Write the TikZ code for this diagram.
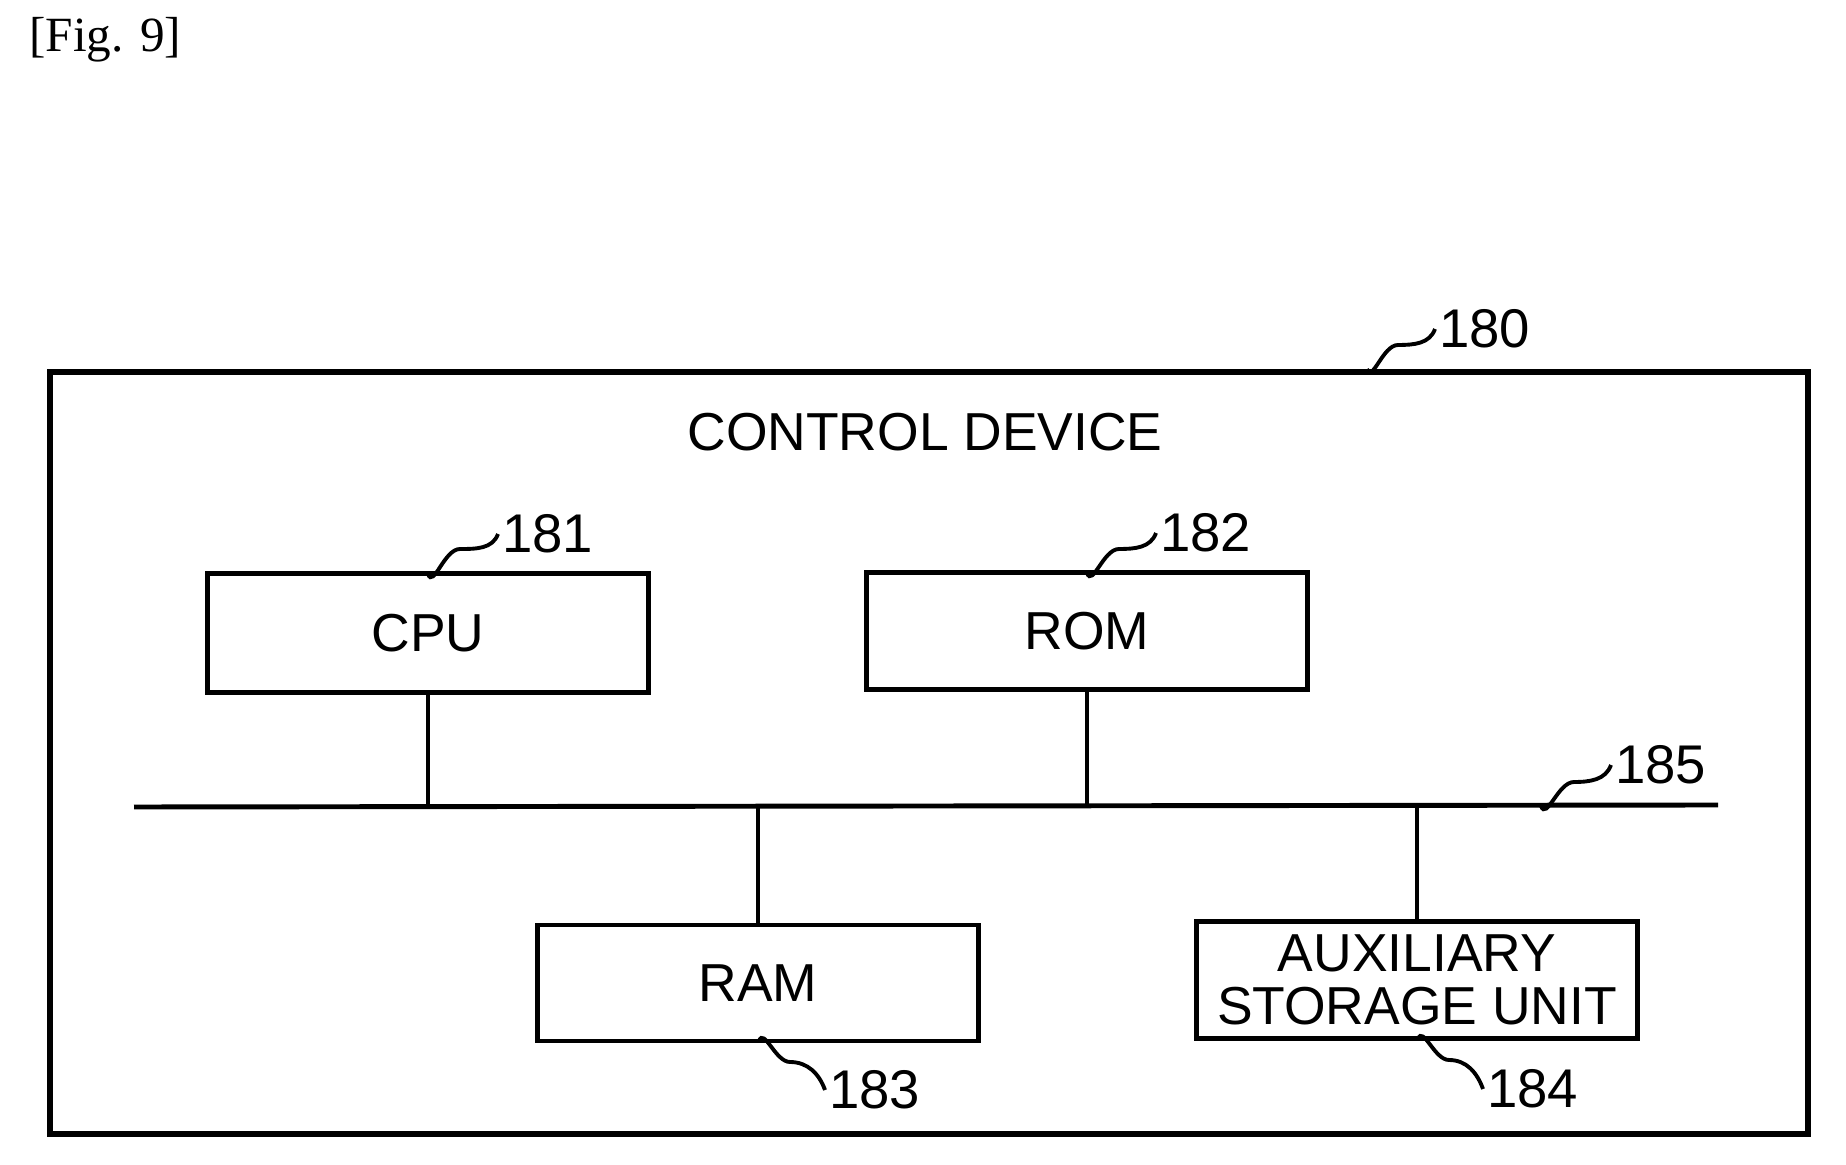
\documentclass[tikz,border=0pt]{standalone}
\usepackage{fontspec}
\setmainfont{Liberation Sans}
\newfontfamily\figfont{Liberation Serif}
\begin{document}
\begin{tikzpicture}[x=0.01cm,y=-0.01cm,
  box/.style={draw,line width=1.4pt,align=center,font=\fontsize{15.2}{16}\selectfont,inner sep=0pt},
  num/.style={font=\fontsize{15.5}{16}\selectfont,inner sep=1pt},
  lead/.style={line width=1.1pt},
  ln/.style={line width=1.4pt}]
\useasboundingbox (0,0) rectangle (1846,1165);
\node[anchor=west,font=\figfont\fontsize{14}{16}\selectfont] (fig) at (17,40) {[Fig. 9]};
\node[draw,line width=1.6pt,minimum width=17.57cm,minimum height=7.62cm,anchor=north west] (outer) at (47,369) {};
\node[font=\fontsize{15.2}{16}\selectfont] (title) at (925,432) {CONTROL DEVICE};
\node[box,minimum width=4.4cm,minimum height=1.19cm] (cpu) at (428,633) {CPU};
\node[box,minimum width=4.41cm,minimum height=1.17cm] (rom) at (1087,631) {ROM};
\node[box,minimum width=4.4cm,minimum height=1.16cm] (ram) at (758,983) {RAM};
\node[box,minimum width=4.4cm,minimum height=1.17cm] (aux) at (1417,980) {AUXILIARY\\[-1pt]STORAGE UNIT};
\coordinate (busL) at (134,807);
\coordinate (busR) at (1718,805);
\draw[ln] (busL) -- (busR);
\draw[ln] (cpu.south) -- (cpu.south |- busL);
\draw[ln] (rom.south) -- (rom.south |- busL);
\draw[ln] (ram.north) -- (ram.north |- busL);
\draw[ln] (aux.north) -- (aux.north |- busL);
% labels
\node[num,anchor=west] (n180) at (1435,329) {180};
\node[num,anchor=west] (n181) at (498,534) {181};
\node[num,anchor=west] (n182) at (1156,533) {182};
\node[num,anchor=west] (n185) at (1611,765) {185};
\node[num,anchor=west] (n183) at (825,1090) {183};
\node[num,anchor=west] (n184) at (1483,1089) {184};
\coordinate (a180) at (1367,369);
\coordinate (a181) at (428,574);
\coordinate (a182) at (1087,573);
\coordinate (a185) at (1541,806);
\coordinate (a183) at (759,1041);
\coordinate (a184) at (1418,1039);
\draw[lead] (a180) to[out=-70,in=180] (1398,345) to[out=0,in=-110] (n180.west);
\draw[lead] (a181) to[out=-70,in=180] (460,549) to[out=0,in=-110] (n181.west);
\draw[lead] (a182) to[out=-70,in=180] (1119,549) to[out=0,in=-110] (n182.west);
\draw[lead] (a185) to[out=-70,in=180] (1574,782) to[out=0,in=-110] (n185.west);
\draw[lead] (a183) to[out=70,in=180] (790,1062) to[out=0,in=110] (n183.west);
\draw[lead] (a184) to[out=70,in=180] (1449,1060) to[out=0,in=110] (n184.west);
\end{tikzpicture}
\end{document}
